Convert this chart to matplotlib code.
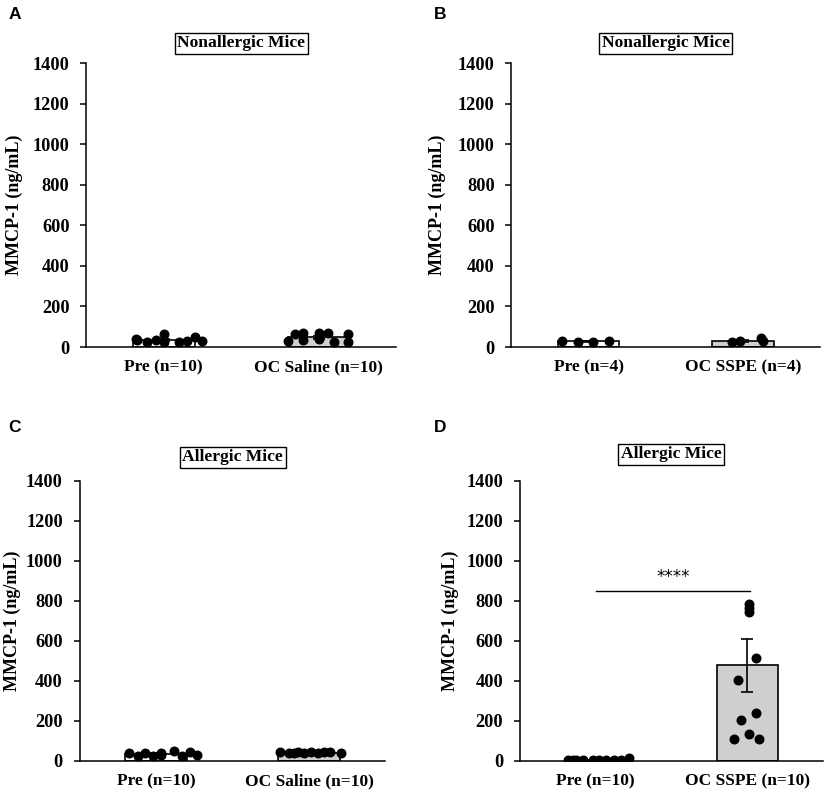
import matplotlib
matplotlib.use('Agg')
import matplotlib.pyplot as plt

plt.rcParams['font.family'] = ['Liberation Serif', 'DejaVu Serif']
plt.rcParams['font.weight'] = 'bold'

# panel A - nonallergic, saline
a_labels = ['Pre (n=10)', 'OC Saline (n=10)']
a_pre = [39, 33, 25, 33, 66, 25, 25, 28, 48, 31]
a_pre_x = [-0.18, -0.17, -0.11, -0.05, 0.0, 0.0, 0.10, 0.15, 0.20, 0.25]
a_oc = [28, 64, 69, 36, 69, 39, 69, 25, 64, 25]
a_oc_x = [-0.20, -0.15, -0.10, -0.10, 0.0, 0.0, 0.06, 0.10, 0.19, 0.19]
a_mean = [35, 47]
a_sem = [4, 6]

# panel B - nonallergic, SSPE
b_labels = ['Pre (n=4)', 'OC SSPE (n=4)']
b_pre = [28, 27, 27, 29]
b_pre_x = [-0.17, -0.07, 0.03, 0.13]
b_oc = [25, 28, 43, 28]
b_oc_x = [-0.07, -0.02, 0.12, 0.13]
b_mean = [28, 31]
b_sem = [1, 4]

# panel C - allergic, saline
c_labels = ['Pre (n=10)', 'OC Saline (n=10)']
c_pre = [38, 22, 38, 22, 38, 30, 47, 25, 43, 30]
c_pre_x = [-0.18, -0.12, -0.07, -0.02, 0.03, 0.03, 0.12, 0.17, 0.22, 0.27]
c_oc = [42, 38, 40, 42, 40, 42, 38, 42, 42, 38]
c_oc_x = [-0.19, -0.13, -0.10, -0.07, -0.03, 0.01, 0.06, 0.10, 0.14, 0.21]
c_mean = [35, 40]
c_sem = [3, 1]

# panel D - allergic, SSPE
d_labels = ['Pre (n=10)', 'OC SSPE (n=10)']
d_pre = [5, 5, 5, 6, 6, 5, 5, 5, 12, 5]
d_pre_x = [-0.18, -0.13, -0.08, -0.02, 0.02, 0.07, 0.12, 0.17, 0.22, -0.15]
d_oc = [786, 765, 745, 515, 403, 203, 240, 107, 132, 107]
d_oc_x = [0.01, 0.01, 0.01, 0.06, -0.06, -0.04, 0.06, -0.09, 0.01, 0.08]
d_mean = [6, 478]
d_sem = [1, 132]

W, H = 829, 795
fig = plt.figure(figsize=(W / 100, H / 100), dpi=100)


def panel(rect, title, title_y, label_x, labels, pre, pre_x, oc, oc_x, mean, sem):
    ax = fig.add_axes(rect)
    ax.bar([0, 1], mean, width=0.4, color=['white', '#d0cece'],
           edgecolor='black', linewidth=1.2, zorder=1)
    ax.errorbar([0, 1], mean, yerr=sem, fmt='none', ecolor='black',
                elinewidth=1.2, capsize=4, capthick=1.2, zorder=2)
    ax.scatter(pre_x, pre, s=38, color='black', zorder=3)
    ax.scatter([1 + p for p in oc_x], oc, s=38, color='black', zorder=3)
    ax.set_xlim(-0.5, 1.5)
    ax.set_ylim(0, 1400)
    ax.set_yticks(range(0, 1401, 200))
    ax.set_xticks([0, 1])
    ax.set_xticklabels(labels, fontsize=12.5, fontweight='bold')
    ax.tick_params(axis='x', length=0, pad=9)
    ax.tick_params(axis='y', length=4, width=1.1, labelsize=13.2, pad=8)
    for t in ax.get_yticklabels():
        t.set_fontweight('bold')
    ax.spines['top'].set_visible(False)
    ax.spines['right'].set_visible(False)
    ax.spines['left'].set_linewidth(1.1)
    ax.spines['bottom'].set_linewidth(1.1)
    ax.set_ylabel('MMCP-1 (ng/mL)', fontsize=13, fontweight='bold')
    # label offset given in pixels from the left spine
    ax.yaxis.set_label_coords(label_x / (rect[2] * W), 0.5)
    ax.text(0.5, title_y, title, transform=ax.transAxes, ha='center', va='center',
            fontsize=12.6, fontweight='bold',
            bbox=dict(boxstyle='square,pad=0.15', facecolor='white',
                      edgecolor='black', linewidth=1.0))
    return ax


panel([0.104, 0.5635, 0.374, 0.357], 'Nonallergic Mice', 1.07, -63,
      a_labels, a_pre, a_pre_x, a_oc, a_oc_x, a_mean, a_sem)
panel([0.617, 0.5635, 0.372, 0.357], 'Nonallergic Mice', 1.07, -65,
      b_labels, b_pre, b_pre_x, b_oc, b_oc_x, b_mean, b_sem)
panel([0.096, 0.043, 0.369, 0.352], 'Allergic Mice', 1.085, -59,
      c_labels, c_pre, c_pre_x, c_oc, c_oc_x, c_mean, c_sem)
axd = panel([0.627, 0.043, 0.366, 0.352], 'Allergic Mice', 1.095, -61,
            d_labels, d_pre, d_pre_x, d_oc, d_oc_x, d_mean, d_sem)

# panel letters
for lx, ly, letter in [(0.010, 0.982, 'A'), (0.523, 0.982, 'B'),
                       (0.010, 0.462, 'C'), (0.523, 0.462, 'D')]:
    fig.text(lx, ly, letter, family='Liberation Sans', fontsize=12.5,
             fontweight='bold', ha='left', va='center')

# significance bar
axd.plot([0.0, 1.02], [850, 850], color='black', linewidth=1.0)
axd.text(0.51, 875, '****', ha='center', va='bottom', fontsize=12,
         fontweight='normal', family='DejaVu Sans')

fig.savefig('out.png', dpi=100)
